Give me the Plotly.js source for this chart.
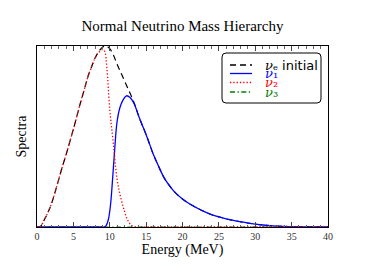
<!DOCTYPE html>
<html><head><meta charset="utf-8">
<script src="https://cdn.plot.ly/plotly-3.0.1.min.js"></script>
<style>html,body{margin:0;padding:0;background:#fff;}</style>
</head><body>
<div id="chart" style="width:365px;height:274px;"></div>
<script>
// Energy grids (MeV) and spectra (arbitrary units)
var energyInitial = [0, 0.4, 1, 1.5, 2, 2.5, 3, 3.5, 4, 4.5, 5, 5.5, 6, 6.5, 7, 7.5, 8, 8.5, 9, 9.5, 10, 10.5, 11, 11.5, 12, 12.5, 13, 13.5, 14, 14.5, 15, 15.5, 16, 16.5, 17, 17.5, 18, 19, 20, 21, 22, 23, 24, 25, 26, 27, 28, 29, 30, 31, 32, 33, 34, 35, 36, 38, 40];
var nueInitial    = [0, 0, 0.04, 0.08, 0.13, 0.195, 0.265, 0.335, 0.40, 0.47, 0.54, 0.615, 0.69, 0.76, 0.83, 0.885, 0.935, 0.97, 0.993, 1.0, 0.985, 0.95, 0.9, 0.855, 0.81, 0.765, 0.72, 0.67, 0.61, 0.56, 0.51, 0.455, 0.40, 0.355, 0.31, 0.27, 0.24, 0.19, 0.155, 0.127, 0.105, 0.085, 0.068, 0.056, 0.045, 0.036, 0.029, 0.022, 0.016, 0.011, 0.0075, 0.005, 0.0033, 0.002, 0.0012, 0.0005, 0];

var energyNu1 = [0, 3, 6, 8, 9, 9.2, 9.5, 9.8, 10.1, 10.4, 10.7, 11.0, 11.4, 11.8, 12.3, 12.8, 13.3, 13.7, 14, 14.5, 15, 15.5, 16, 16.5, 17, 17.5, 18, 19, 20, 21, 22, 23, 24, 25, 26, 27, 28, 29, 30, 31, 32, 33, 34, 35, 36, 38, 40];
var nu1       = [0, 0, 0, 0, 0, 0, 0.008, 0.04, 0.12, 0.27, 0.44, 0.58, 0.66, 0.7, 0.725, 0.715, 0.685, 0.645, 0.61, 0.56, 0.51, 0.455, 0.40, 0.355, 0.31, 0.27, 0.24, 0.19, 0.155, 0.127, 0.105, 0.085, 0.068, 0.056, 0.045, 0.036, 0.029, 0.022, 0.016, 0.011, 0.0075, 0.005, 0.0033, 0.002, 0.0012, 0.0005, 0];

var energyNu2 = [0, 0.4, 1, 1.5, 2, 2.5, 3, 3.5, 4, 4.5, 5, 5.5, 6, 6.5, 7, 7.5, 8, 8.5, 9, 9.3, 9.6, 10, 10.5, 11, 11.5, 12, 12.5, 13, 13.5, 14, 20, 30, 40];
var nu2       = [0, 0, 0.04, 0.08, 0.13, 0.195, 0.265, 0.335, 0.40, 0.47, 0.54, 0.615, 0.69, 0.76, 0.83, 0.885, 0.935, 0.965, 0.98, 0.97, 0.88, 0.65, 0.46, 0.265, 0.165, 0.09, 0.035, 0.008, 0, 0, 0, 0, 0];

var energyNu3 = [0, 10, 20, 30, 40];
var nu3       = [0, 0, 0, 0, 0];

var xTickVals = [0, 5, 10, 15, 20, 25, 30, 35, 40];

var legendNames  = ['<i>ν</i>ₑ <span style="font-family:\'DejaVu Sans\'">initial</span>', '<i>ν</i>₁', '<i>ν</i>₂', '<i>ν</i>₃'];
var legendColors = ['black', 'blue', 'red', 'green'];
var dashInitial = '6px,4px', dashNu2 = '1.3px,2px', dashNu3 = '5px,2.5px,1.3px,2.5px';
var legendDash   = [dashInitial, 'solid', dashNu2, dashNu3];

var serif = '"Liberation Serif", "DejaVu Serif", serif';

var traces = [
  {x: energyNu3, y: nu3, mode: 'lines', line: {color: 'green', dash: dashNu3, width: 1.2}},
  {x: energyInitial, y: nueInitial, mode: 'lines',
   line: {color: 'black', dash: dashInitial, width: 1.2, shape: 'spline', smoothing: 1}},
  {x: energyNu1, y: nu1, mode: 'lines',
   line: {color: 'blue', width: 1.3, shape: 'spline', smoothing: 1}},
  {x: energyNu2, y: nu2, mode: 'lines',
   line: {color: 'red', dash: dashNu2, width: 1.3, shape: 'spline', smoothing: 1}}
];

// custom legend (paper coordinates)
function px2x(p) { return (p - 37) / 291; }
function px2y(p) { return (227 - p) / 181; }
var bx0 = px2x(222), bx1 = px2x(321), by0 = px2y(103), by1 = px2y(53);
var rx = 4 / 291, ry = 4 / 181;
var boxPath = 'M ' + (bx0 + rx) + ' ' + by1 +
  ' L ' + (bx1 - rx) + ' ' + by1 + ' Q ' + bx1 + ' ' + by1 + ' ' + bx1 + ' ' + (by1 - ry) +
  ' L ' + bx1 + ' ' + (by0 + ry) + ' Q ' + bx1 + ' ' + by0 + ' ' + (bx1 - rx) + ' ' + by0 +
  ' L ' + (bx0 + rx) + ' ' + by0 + ' Q ' + bx0 + ' ' + by0 + ' ' + bx0 + ' ' + (by0 + ry) +
  ' L ' + bx0 + ' ' + (by1 - ry) + ' Q ' + bx0 + ' ' + by1 + ' ' + (bx0 + rx) + ' ' + by1 + ' Z';
var shapes = [{type: 'path', xref: 'paper', yref: 'paper', path: boxPath,
               line: {color: 'black', width: 1}, fillcolor: 'white', layer: 'above'}];
var rowsY = [65, 73.5, 82.5, 92];
var annotations = [];
for (var i = 0; i < legendNames.length; i++) {
  shapes.push({type: 'line', xref: 'paper', yref: 'paper', x0: px2x(230), x1: px2x(252),
               y0: px2y(rowsY[i]), y1: px2y(rowsY[i]),
               line: {color: legendColors[i], dash: legendDash[i], width: 1.3}});
  annotations.push({xref: 'paper', yref: 'paper', x: px2x(264), y: px2y(rowsY[i]),
                    xanchor: 'left', yanchor: 'middle', showarrow: false, borderpad: 0,
                    text: legendNames[i], font: {family: '"DejaVu Serif", serif', size: 13, color: legendColors[i]}});
}

var layout = {
  width: 365, height: 274,
  margin: {l: 37, r: 37, t: 46, b: 47},
  paper_bgcolor: 'white', plot_bgcolor: 'white',
  showlegend: false,
  title: {text: 'Normal Neutrino Mass Hierarchy', font: {family: serif, size: 15, color: 'black'},
          x: 0.5, xanchor: 'center', y: 0.905, yanchor: 'middle'},
  shapes: shapes,
  annotations: annotations,
  xaxis: {range: [0, 40], tickvals: xTickVals, ticktext: xTickVals.map(String),
          ticks: 'inside', ticklen: 5, tickcolor: '#444', tickwidth: 1,
          minor: {ticks: 'inside', dtick: 1, ticklen: 2.5, tickcolor: '#666'},
          showline: true, linecolor: 'black', linewidth: 1, mirror: 'ticks',
          showgrid: false, zeroline: false,
          tickfont: {family: serif, size: 10, color: '#333'},
          title: {text: 'Energy (MeV)', font: {family: serif, size: 14, color: 'black'}, standoff: 3}},
  yaxis: {range: [0, 1.0], showticklabels: false, ticks: '',
          showline: true, linecolor: 'black', linewidth: 1, mirror: true,
          showgrid: false, zeroline: false,
          title: {text: 'Spectra', font: {family: serif, size: 14, color: 'black'}, standoff: 6}}
};

Plotly.newPlot('chart', traces, layout, {staticPlot: true, displayModeBar: false});
</script>
</body></html>
